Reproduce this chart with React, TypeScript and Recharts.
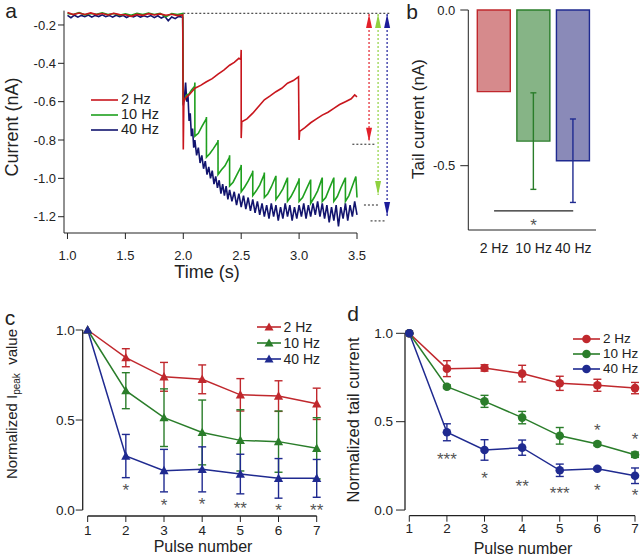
import React from "react";
import {
  LineChart,
  Line,
  BarChart,
  Bar,
  XAxis,
  YAxis,
  ErrorBar,
  ReferenceLine,
  ReferenceDot,
} from "recharts";

const FONT = '"Liberation Sans", Arial, sans-serif';
const INK = "#222";

// panel a trace colours
const A_RED = "#c8161d";
const A_GREEN = "#1fa01f";
const A_BLUE = "#12146e";
// panels b-d colours
const RED = "#c0282d";
const GREEN = "#2a7d2a";
const BLUE = "#1f2a90";

const SERIES = ["2 Hz", "10 Hz", "40 Hz"];

// ---- panel a: current traces, [time (s), current (nA)] ----
const trace2Hz: [number, number][] = [
  [1.0, -0.135], [1.05, -0.146], [1.1, -0.138], [1.15, -0.145], [1.2, -0.137],
  [1.25, -0.146], [1.3, -0.14], [1.35, -0.148], [1.4, -0.139], [1.45, -0.146],
  [1.5, -0.147], [1.55, -0.155], [1.6, -0.145], [1.65, -0.15], [1.7, -0.141],
  [1.75, -0.148], [1.8, -0.142], [1.85, -0.149], [1.9, -0.144], [1.95, -0.151],
  [1.995, -0.148], [2.0, -0.85], [2.005, -0.6], [2.02, -0.58], [2.05, -0.565],
  [2.1, -0.53], [2.15, -0.515], [2.2, -0.496], [2.25, -0.48], [2.3, -0.456],
  [2.35, -0.435], [2.4, -0.41], [2.44, -0.395], [2.48, -0.374], [2.497, -0.38],
  [2.5, -0.33], [2.5, -0.79], [2.505, -0.705], [2.55, -0.69], [2.6, -0.66],
  [2.65, -0.625], [2.7, -0.59], [2.75, -0.57], [2.8, -0.548], [2.85, -0.53],
  [2.9, -0.504], [2.95, -0.49], [2.995, -0.47], [3.0, -0.8], [3.005, -0.755],
  [3.05, -0.735], [3.1, -0.71], [3.15, -0.69], [3.2, -0.67], [3.25, -0.655],
  [3.3, -0.635], [3.35, -0.615], [3.4, -0.6], [3.45, -0.585], [3.48, -0.565],
  [3.5, -0.575],
];

const trace10Hz: [number, number][] = [
  [1.0, -0.14], [1.05, -0.145], [1.1, -0.136], [1.15, -0.147], [1.2, -0.14],
  [1.25, -0.144], [1.3, -0.137], [1.35, -0.146], [1.4, -0.14], [1.45, -0.149],
  [1.5, -0.142], [1.55, -0.149], [1.6, -0.139], [1.65, -0.146], [1.7, -0.138],
  [1.75, -0.145], [1.8, -0.139], [1.85, -0.158], [1.9, -0.141], [1.95, -0.146],
  [1.995, -0.14], [2.0, -0.6], [2.01, -0.59], [2.03, -0.565], [2.05, -0.56],
  [2.07, -0.54], [2.098, -0.52], [2.1, -0.5], [2.1, -0.78], [2.13, -0.765],
  [2.16, -0.73], [2.198, -0.69], [2.2, -0.68], [2.2, -0.89], [2.23, -0.87],
  [2.26, -0.845], [2.298, -0.81], [2.3, -0.8], [2.3, -0.98], [2.33, -0.955],
  [2.36, -0.935], [2.398, -0.89], [2.4, -0.88], [2.4, -1.04], [2.43, -1.02],
  [2.46, -0.985], [2.498, -0.94], [2.5, -0.93], [2.5, -1.07], [2.53, -1.045],
  [2.56, -1.015], [2.598, -0.97], [2.6, -0.96], [2.6, -1.09], [2.63, -1.065],
  [2.66, -1.035], [2.698, -0.98], [2.7, -0.97], [2.7, -1.1], [2.73, -1.08],
  [2.76, -1.045], [2.798, -0.99], [2.8, -0.99], [2.8, -1.11], [2.83, -1.085],
  [2.86, -1.055], [2.898, -1.0], [2.9, -1.0], [2.9, -1.12], [2.93, -1.095],
  [2.96, -1.06], [2.998, -1.01], [3.0, -1.0], [3.0, -1.12], [3.03, -1.1],
  [3.06, -1.06], [3.098, -1.01], [3.1, -1.01], [3.1, -1.13], [3.13, -1.1],
  [3.16, -1.065], [3.198, -1.0], [3.2, -1.0], [3.2, -1.12], [3.23, -1.1],
  [3.26, -1.055], [3.298, -1.0], [3.3, -1.0], [3.3, -1.12], [3.33, -1.095],
  [3.36, -1.05], [3.398, -1.0], [3.4, -1.0], [3.4, -1.12], [3.43, -1.09],
  [3.46, -1.04], [3.49, -0.99], [3.5, -1.1],
];

const trace40Hz: [number, number][] = [
  [1.0, -0.15], [1.03, -0.162], [1.06, -0.149], [1.09, -0.159], [1.12, -0.15],
  [1.15, -0.157], [1.18, -0.148], [1.21, -0.159], [1.24, -0.15], [1.27, -0.156],
  [1.3, -0.147], [1.33, -0.157], [1.36, -0.15], [1.39, -0.159], [1.42, -0.149],
  [1.45, -0.156], [1.48, -0.15], [1.51, -0.161], [1.54, -0.152], [1.57, -0.158],
  [1.6, -0.15], [1.63, -0.159], [1.66, -0.152], [1.69, -0.158], [1.72, -0.151],
  [1.75, -0.162], [1.78, -0.152], [1.81, -0.164], [1.84, -0.155], [1.87, -0.178],
  [1.9, -0.158], [1.93, -0.167], [1.96, -0.155], [1.995, -0.16],
  [2.0, -0.62], [2.01, -0.58], [2.02, -0.5], [2.03, -0.6], [2.04, -0.56],
  [2.05, -0.7], [2.06, -0.66], [2.07, -0.78], [2.08, -0.74], [2.09, -0.84],
  [2.1, -0.8], [2.115, -0.88], [2.13, -0.84], [2.145, -0.92], [2.16, -0.88],
  [2.175, -0.95], [2.19, -0.91], [2.205, -0.98], [2.22, -0.94], [2.235, -1.0],
  [2.25, -0.96], [2.265, -1.03], [2.28, -0.99], [2.295, -1.05], [2.31, -1.01],
  [2.325, -1.08], [2.34, -1.03], [2.355, -1.09], [2.37, -1.04], [2.385, -1.11],
  [2.4, -1.06], [2.42, -1.12], [2.44, -1.07], [2.46, -1.14], [2.48, -1.08],
  [2.5, -1.15], [2.52, -1.09], [2.54, -1.16], [2.56, -1.1], [2.58, -1.17],
  [2.6, -1.11], [2.62, -1.18], [2.64, -1.12], [2.66, -1.19], [2.68, -1.13],
  [2.7, -1.2], [2.72, -1.14], [2.74, -1.21], [2.76, -1.13], [2.78, -1.2],
  [2.8, -1.14], [2.82, -1.22], [2.84, -1.15], [2.86, -1.21], [2.88, -1.13],
  [2.9, -1.2], [2.92, -1.14], [2.94, -1.22], [2.96, -1.15], [2.98, -1.21],
  [3.0, -1.14], [3.02, -1.2], [3.04, -1.13], [3.06, -1.21], [3.08, -1.14],
  [3.1, -1.2], [3.12, -1.13], [3.14, -1.19], [3.16, -1.12], [3.18, -1.2],
  [3.2, -1.13], [3.22, -1.21], [3.24, -1.14], [3.26, -1.23], [3.28, -1.15],
  [3.3, -1.22], [3.32, -1.14], [3.34, -1.25], [3.36, -1.15], [3.38, -1.21],
  [3.4, -1.13], [3.42, -1.22], [3.44, -1.14], [3.46, -1.2], [3.48, -1.12],
  [3.5, -1.19],
];

// amplitude markers right of the traces
const baselineLevel = -0.139;
const arrowTimes = [3.604, 3.682, 3.76];
const arrowTopTip = -0.143;
const arrowBottomTip = [-0.809, -1.087, -1.196];
const steadyLevel = [-0.822, -1.139, -1.222];
const steadyFrom = [3.46, 3.56, 3.617];
const steadyTo = [3.66, 3.69, 3.75];
const ARROW_COLORS = ["#e3202a", "#8fd13f", "#1c1c9a"];

// ---- panel b: tail current (nA) ----
const tailMean = [-0.262, -0.421, -0.484];
const tailSem = [null, 0.155, 0.134];

// ---- panel c: normalized I_peak ----
const pulses = [1, 2, 3, 4, 5, 6, 7];
const peak2Hz = [1, 0.846, 0.74, 0.726, 0.64, 0.633, 0.59];
const peak2HzSem = [0, 0.05, 0.08, 0.08, 0.09, 0.085, 0.087];
const peak10Hz = [1, 0.663, 0.513, 0.431, 0.387, 0.38, 0.343];
const peak10HzSem = [0, 0.1, 0.16, 0.18, 0.17, 0.17, 0.17];
const peak40Hz = [1, 0.3, 0.219, 0.226, 0.2, 0.176, 0.176];
const peak40HzSem = [0, 0.12, 0.118, 0.125, 0.11, 0.11, 0.105];
const peakStars: [number, number, string][] = [
  [2, 0.128, "*"], [3, 0.044, "*"], [4, 0.052, "*"],
  [5, 0.028, "**"], [6, 0.017, "*"], [7, 0.017, "**"],
];

// ---- panel d: normalized tail current ----
const tail2Hz = [1, 0.8, 0.804, 0.772, 0.717, 0.706, 0.69];
const tail2HzSem = [0, 0.045, 0.018, 0.047, 0.04, 0.034, 0.032];
const tail10Hz = [1, 0.698, 0.615, 0.523, 0.42, 0.374, 0.313];
const tail10HzSem = [0, 0.01, 0.034, 0.035, 0.047, 0.01, 0.015];
const tail40Hz = [1, 0.44, 0.34, 0.353, 0.225, 0.234, 0.194];
const tail40HzSem = [0, 0.048, 0.058, 0.043, 0.035, 0.008, 0.044];
const tailStars: [number, number, string][] = [
  [2, 0.306, "***"], [3, 0.198, "*"], [4, 0.153, "**"], [5, 0.113, "***"],
  [6, 0.13, "*"], [7, 0.104, "*"], [6, 0.47, "*"], [7, 0.419, "*"],
];

const toPts = (arr: [number, number][]) => arr.map(([t, v]) => ({ t, v }));

const pulseRows = (m: number[][], e: number[][]) =>
  pulses.map((p, i) => ({
    p,
    a: m[0][i], ae: e[0][i],
    b: m[1][i], be: e[1][i],
    c: m[2][i], ce: e[2][i],
  }));

const peakRows = pulseRows([peak2Hz, peak10Hz, peak40Hz], [peak2HzSem, peak10HzSem, peak40HzSem]);
const tailRows = pulseRows([tail2Hz, tail10Hz, tail40Hz], [tail2HzSem, tail10HzSem, tail40HzSem]);

const barRows = SERIES.map((name, i) => ({
  name,
  r: i === 0 ? tailMean[i] : null,
  g: i === 1 ? tailMean[i] : null,
  b: i === 2 ? tailMean[i] : null,
  re: i === 0 ? tailSem[i] : null,
  ge: i === 1 ? tailSem[i] : null,
  be: i === 2 ? tailSem[i] : null,
}));

const tickStyle = (size: number) => ({ fill: INK, fontSize: size, fontFamily: FONT });
const fmt1 = (v: number) => v.toFixed(1);

// text placed by its centre
function Txt({ x, y, size, rotate, children }: any) {
  return (
    <div
      style={{
        position: "absolute",
        left: x,
        top: y,
        transform: `translate(-50%, -50%)${rotate ? ` rotate(${rotate}deg)` : ""}`,
        whiteSpace: "nowrap",
        fontFamily: FONT,
        fontSize: size,
        color: INK,
        lineHeight: 1,
      }}
    >
      {children}
    </div>
  );
}

function LegendBox({ x, y, rowH, size, colors, marker, lineW }: any) {
  return (
    <div style={{ position: "absolute", left: x, top: y, fontFamily: FONT, fontSize: size, color: INK }}>
      {SERIES.map((s, i) => (
        <div key={s} style={{ display: "flex", alignItems: "center", height: rowH }}>
          <svg width={lineW} height={12} style={{ marginRight: 3 }}>
            <line x1={0} y1={6} x2={lineW} y2={6} stroke={colors[i]} strokeWidth={1.6} />
            {marker === "tri" && (
              <polygon points={`${lineW / 2},1.5 ${lineW / 2 - 4.5},9.5 ${lineW / 2 + 4.5},9.5`} fill={colors[i]} />
            )}
            {marker === "circle" && <circle cx={lineW / 2} cy={6} r={4.3} fill={colors[i]} />}
          </svg>
          <span style={{ lineHeight: 1 }}>{s}</span>
        </div>
      ))}
    </div>
  );
}

const triDot = (color: string) => (props: any) => {
  const { cx, cy, index } = props;
  return (
    <polygon
      key={`t${index}`}
      points={`${cx},${cy - 4.8} ${cx - 4.6},${cy + 3.6} ${cx + 4.6},${cy + 3.6}`}
      fill={color}
    />
  );
};

const circleDot = (color: string) => (props: any) => {
  const { cx, cy, index } = props;
  return <circle key={`c${index}`} cx={cx} cy={cy} r={4.3} fill={color} />;
};

const starShape = (text: string) => (props: any) => (
  <text
    x={props.cx}
    y={props.cy + 9}
    textAnchor="middle"
    fontFamily={FONT}
    fontSize={17}
    fill="#555"
  >
    {text}
  </text>
);

const arrowHead = (color: string, up: boolean) => (props: any) => {
  const { cx, cy } = props;
  const b = up ? cy + 14 : cy - 14;
  return <polygon points={`${cx},${cy} ${cx - 3},${b} ${cx + 3},${b}`} fill={color} />;
};

function PanelA() {
  return (
    <LineChart width={400} height={290} margin={{ top: 10.6, right: 43, left: 8, bottom: 17 }}>
      <XAxis
        type="number"
        dataKey="t"
        domain={[0.97, 3.5]}
        ticks={[1, 1.5, 2, 2.5, 3, 3.5]}
        tickFormatter={fmt1}
        tick={tickStyle(13)}
        tickSize={6}
        tickMargin={12}
        height={40}
        stroke={INK}
        allowDuplicatedCategory={false}
      />
      <YAxis
        type="number"
        domain={[-1.285, -0.125]}
        ticks={[-1.2, -1.0, -0.8, -0.6, -0.4, -0.2]}
        tickFormatter={fmt1}
        tick={tickStyle(13)}
        tickSize={6}
        tickMargin={2}
        width={56}
        stroke={INK}
      />
      <Line data={toPts(trace40Hz)} dataKey="v" stroke={A_BLUE} strokeWidth={1.6} dot={false} isAnimationActive={false} />
      <Line data={toPts(trace10Hz)} dataKey="v" stroke={A_GREEN} strokeWidth={1.6} dot={false} isAnimationActive={false} />
      <Line data={toPts(trace2Hz)} dataKey="v" stroke={A_RED} strokeWidth={1.6} dot={false} isAnimationActive={false} />
      <ReferenceLine
        segment={[{ x: 2.0, y: baselineLevel }, { x: 3.78, y: baselineLevel }]}
        stroke={INK}
        strokeDasharray="2 2"
        ifOverflow="visible"
      />
      {arrowTimes.map((t, i) => (
        <ReferenceLine
          key={`v${i}`}
          segment={[{ x: t, y: arrowTopTip }, { x: t, y: arrowBottomTip[i] }]}
          stroke={ARROW_COLORS[i]}
          strokeDasharray="2 2"
          strokeWidth={1.2}
          ifOverflow="visible"
        />
      ))}
      {arrowTimes.map((t, i) => (
        <ReferenceLine
          key={`h${i}`}
          segment={[{ x: steadyFrom[i], y: steadyLevel[i] }, { x: steadyTo[i], y: steadyLevel[i] }]}
          stroke={INK}
          strokeDasharray="2 2"
          ifOverflow="visible"
        />
      ))}
      {arrowTimes.map((t, i) => (
        <ReferenceDot key={`u${i}`} x={t} y={arrowTopTip} ifOverflow="visible" shape={arrowHead(ARROW_COLORS[i], true)} />
      ))}
      {arrowTimes.map((t, i) => (
        <ReferenceDot key={`d${i}`} x={t} y={arrowBottomTip[i]} ifOverflow="visible" shape={arrowHead(ARROW_COLORS[i], false)} />
      ))}
    </LineChart>
  );
}

function PanelB() {
  return (
    <BarChart width={243} height={290} data={barRows} margin={{ top: 10, right: 47, left: 0, bottom: 30 }}>
      <XAxis
        dataKey="name"
        type="category"
        tick={tickStyle(14)}
        tickLine={false}
        tickMargin={7}
        padding={{ left: 6, right: 3 }}
        height={30}
        stroke={INK}
      />
      <YAxis
        type="number"
        domain={[-0.7065, 0]}
        ticks={[-0.5, 0]}
        tickFormatter={fmt1}
        tick={tickStyle(13)}
        tickSize={8}
        tickMargin={5}
        width={68.3}
        stroke={INK}
      />
      <Bar dataKey="r" stackId="s" barSize={33} fill="#d68a8c" stroke={RED} strokeWidth={1.4} isAnimationActive={false}>
        <ErrorBar dataKey="re" width={3} stroke={RED} strokeWidth={1.4} />
      </Bar>
      <Bar dataKey="g" stackId="s" barSize={33} fill="#86b486" stroke={GREEN} strokeWidth={1.4} isAnimationActive={false}>
        <ErrorBar dataKey="ge" width={3} stroke={GREEN} strokeWidth={1.4} />
      </Bar>
      <Bar dataKey="b" stackId="s" barSize={33} fill="#8a8ab8" stroke={BLUE} strokeWidth={1.4} isAnimationActive={false}>
        <ErrorBar dataKey="be" width={3} stroke={BLUE} strokeWidth={1.4} />
      </Bar>
      <ReferenceLine
        segment={[{ x: SERIES[0], y: -0.645 }, { x: SERIES[2], y: -0.645 }]}
        stroke={INK}
        strokeWidth={1.2}
        ifOverflow="visible"
      />
      <ReferenceDot x={SERIES[1]} y={-0.68} ifOverflow="visible" shape={starShape("*")} />
    </BarChart>
  );
}

function PulsePanel({ rows, stars, dot, margin, yWidth, xMin, yMin, tickSize, tickMarginY, tickMarginX }: any) {
  const colors = [RED, GREEN, BLUE];
  const keys = ["a", "b", "c"];
  return (
    <LineChart width={margin.w} height={269} data={rows} margin={{ top: margin.top, right: margin.right, left: 0, bottom: margin.bottom }}>
      <XAxis
        type="number"
        dataKey="p"
        domain={[xMin, 7]}
        ticks={pulses}
        tick={tickStyle(13.5)}
        tickSize={6}
        tickMargin={tickMarginX}
        axisLine={false}
        stroke={INK}
        height={24}
      />
      <YAxis
        type="number"
        domain={[yMin, 1]}
        ticks={[0, 0.5, 1]}
        tickFormatter={fmt1}
        tick={tickStyle(13.5)}
        tickSize={tickSize}
        tickMargin={tickMarginY}
        axisLine={false}
        stroke={INK}
        width={yWidth}
      />
      <ReferenceLine segment={[{ x: xMin, y: 0 }, { x: xMin, y: 1 }]} stroke={INK} strokeWidth={1.3} ifOverflow="visible" />
      <ReferenceLine segment={[{ x: 1, y: yMin }, { x: 7, y: yMin }]} stroke={INK} strokeWidth={1.3} ifOverflow="visible" />
      {keys.map((k, i) => (
        <Line
          key={k}
          dataKey={k}
          stroke={colors[i]}
          strokeWidth={1.5}
          dot={dot(colors[i])}
          isAnimationActive={false}
        >
          <ErrorBar dataKey={`${k}e`} width={4} stroke={colors[i]} strokeWidth={1.4} />
        </Line>
      ))}
      {stars.map(([p, y, s]: [number, number, string], i: number) => (
        <ReferenceDot key={`s${i}`} x={p} y={y} ifOverflow="visible" shape={starShape(s)} />
      ))}
    </LineChart>
  );
}

export default function App() {
  return (
    <div style={{ position: "absolute", left: 0, top: 0, width: 643, height: 559, background: "#fff", overflow: "hidden" }}>
      <div style={{ position: "absolute", left: 0, top: 0 }}>
        <PanelA />
      </div>
      <div style={{ position: "absolute", left: 400, top: 0 }}>
        <PanelB />
      </div>
      <div style={{ position: "absolute", left: 0, top: 290 }}>
        <PulsePanel
          rows={peakRows}
          stars={peakStars}
          dot={triDot}
          margin={{ w: 330, top: 40, right: 13.3, bottom: 19 }}
          yWidth={82.7}
          xMin={0.87}
          yMin={-0.033}
          tickSize={7}
          tickMarginY={1}
          tickMarginX={3}
        />
      </div>
      <div style={{ position: "absolute", left: 320, top: 290 }}>
        <PulsePanel
          rows={tailRows}
          stars={tailStars}
          dot={circleDot}
          margin={{ w: 323, top: 43.3, right: 8, bottom: 19.3 }}
          yWidth={85}
          xMin={0.886}
          yMin={-0.032}
          tickSize={9}
          tickMarginY={3}
          tickMarginX={2}
        />
      </div>

      {/* legends */}
      <LegendBox x={91} y={92} rowH={15} size={14.5} colors={[A_RED, A_GREEN, A_BLUE]} marker="none" lineW={27} />
      <LegendBox x={256.5} y={318.7} rowH={16} size={14} colors={[RED, GREEN, BLUE]} marker="tri" lineW={24} />
      <LegendBox x={573} y={331.5} rowH={15} size={13.5} colors={[RED, GREEN, BLUE]} marker="circle" lineW={27} />

      {/* axis titles */}
      <Txt x={12} y={127} size={18} rotate={-90}>Current (nA)</Txt>
      <Txt x={207} y={272} size={18}>Time (s)</Txt>
      <Txt x={418} y={119} size={17} rotate={-90}>Tail current (nA)</Txt>
      <Txt x={12.5} y={404} size={15} rotate={-90}>
        Normalized I<sub style={{ fontSize: 10, verticalAlign: "-0.3em" }}>peak</sub>&nbsp;&nbsp;value
      </Txt>
      <Txt x={203} y={547} size={16}>Pulse number</Txt>
      <Txt x={353} y={420} size={16.5} rotate={-90}>Normalized tail current</Txt>
      <Txt x={523} y={549} size={16}>Pulse number</Txt>

      {/* panel letters */}
      <Txt x={11} y={10} size={21}>a</Txt>
      <Txt x={412} y={11} size={21}>b</Txt>
      <Txt x={10} y={317} size={21}>c</Txt>
      <Txt x={353} y={313} size={21}>d</Txt>
    </div>
  );
}
